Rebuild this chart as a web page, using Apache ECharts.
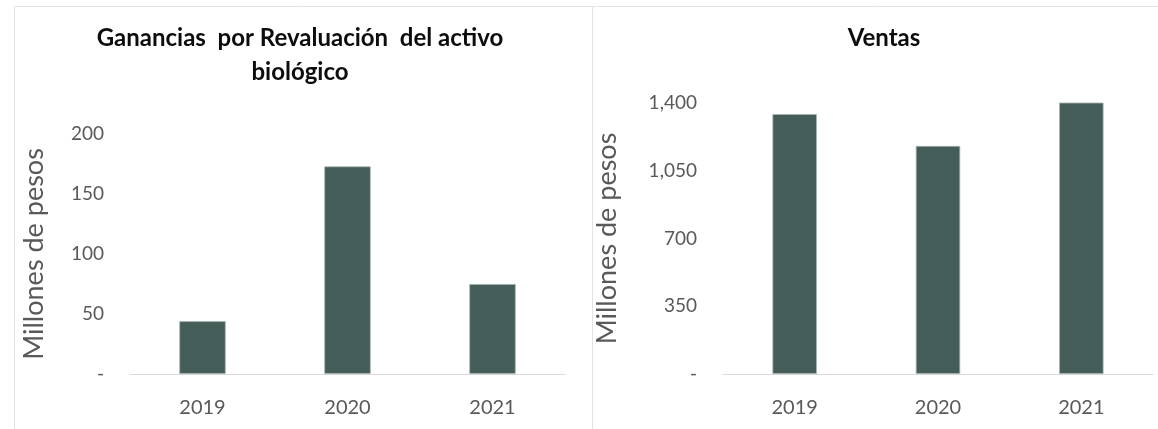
<!DOCTYPE html>
<html>
<head>
<meta charset="utf-8">
<title>Ganancias y Ventas</title>
<script src="https://cdn.jsdelivr.net/npm/echarts@6/dist/echarts.min.js"></script>
<style>
  html, body { margin: 0; padding: 0; background: #fff; }
  #chart { width: 1158px; height: 429px; }
</style>
</head>
<body>
<div id="chart"></div>
<script>
// datos (millones de pesos)
const categorias = ['2019', '2020', '2021'];
const ganancias = [44, 173, 75];
const ventas = [1343, 1178, 1415];
const ticksGanancias = [0, 50, 100, 150, 200];
const ticksVentas = [0, 350, 700, 1050, 1400];

const colorBarra = '#445D58';
const gris = '#595959';
const fuente = 'Lato';

function etiqueta(v) {
  return v === 0 ? '-' : v.toLocaleString('en-US');
}

const chart = echarts.init(document.getElementById('chart'));

function ejeY(gridIndex, ticks, nameGap) {
  return {
    type: 'value',
    gridIndex: gridIndex,
    min: ticks[0],
    max: ticks[ticks.length - 1],
    interval: ticks[1] - ticks[0],
    name: 'Millones de pesos',
    nameLocation: 'middle',
    nameRotate: 90,
    nameGap: nameGap,
    nameTextStyle: { color: gris, fontSize: 27, fontFamily: fuente },
    axisLine: { show: false },
    axisTick: { show: false },
    splitLine: { show: false },
    axisLabel: { color: gris, fontSize: 19, fontFamily: fuente, margin: 26, formatter: etiqueta }
  };
}

function ejeX(gridIndex) {
  return {
    type: 'category',
    gridIndex: gridIndex,
    data: categorias,
    axisLine: { lineStyle: { color: '#D9D9D9', width: 1 } },
    axisTick: { show: false },
    axisLabel: { color: gris, fontSize: 20, fontFamily: fuente, margin: 24 }
  };
}

chart.setOption({
  animation: false,
  title: [
    {
      text: 'Ganancias  por Revaluación  del activo\nbiológico',
      left: 300,
      top: 21,
      padding: 0,
      textAlign: 'center',
      textStyle: { color: '#0d0d0d', fontSize: 24, fontWeight: 'bold', fontFamily: fuente, lineHeight: 34 }
    },
    {
      text: 'Ventas',
      left: 884,
      top: 21,
      padding: 0,
      textAlign: 'center',
      textStyle: { color: '#0d0d0d', fontSize: 24, fontWeight: 'bold', fontFamily: fuente, lineHeight: 34 }
    }
  ],
  // marcos de los dos paneles
  graphic: [
    { type: 'rect', shape: { x: 14.5, y: 6.5, width: 578, height: 440 }, style: { fill: null, stroke: '#E6E2DE', lineWidth: 1 }, silent: true },
    { type: 'rect', shape: { x: 592.5, y: 6.5, width: 600, height: 440 }, style: { fill: null, stroke: '#E6E2DE', lineWidth: 1 }, silent: true }
  ],
  grid: [
    { left: 130, top: 134, width: 435, height: 240 },
    { left: 723, top: 103, width: 430, height: 271 }
  ],
  xAxis: [ejeX(0), ejeX(1)],
  yAxis: [ejeY(0, ticksGanancias, 82), ejeY(1, ticksVentas, 102)],
  series: [
    {
      name: 'Ganancias por revaluación',
      type: 'bar',
      xAxisIndex: 0,
      yAxisIndex: 0,
      barWidth: '32%',
      itemStyle: { color: colorBarra, borderColor: '#A7B4B1', borderWidth: 0.8 },
      data: ganancias
    },
    {
      name: 'Ventas',
      type: 'bar',
      xAxisIndex: 1,
      yAxisIndex: 1,
      barWidth: '31%',
      itemStyle: { color: colorBarra, borderColor: '#A7B4B1', borderWidth: 0.8 },
      data: ventas
    }
  ]
});
</script>
</body>
</html>
